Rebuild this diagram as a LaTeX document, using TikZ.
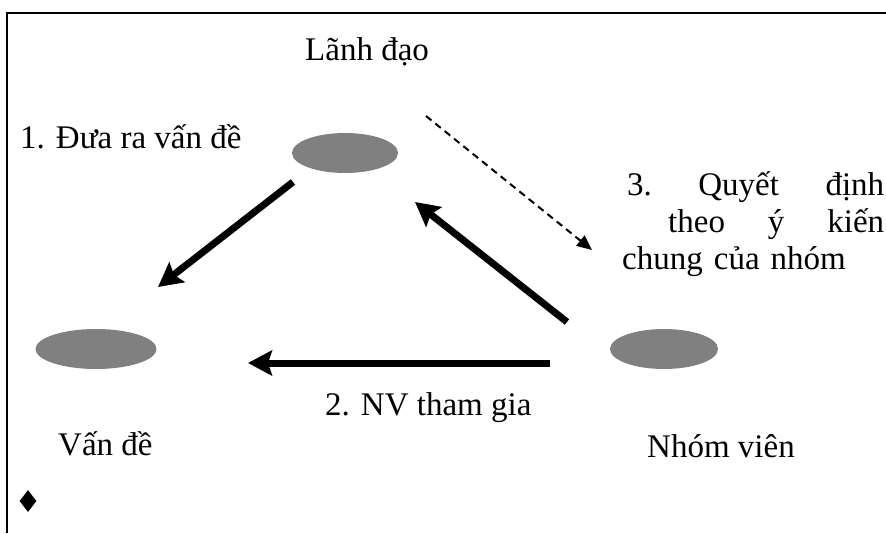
\documentclass[tikz,border=0pt]{standalone}
\usepackage{fontspec}
\setmainfont{Liberation Serif}
\usetikzlibrary{arrows.meta,shapes.geometric}
\definecolor{blobgray}{RGB}{128,128,128}
\begin{document}
\begin{tikzpicture}[x=1pt,y=-1pt,
  blob/.style={ellipse, fill=blobgray, draw=none, inner sep=0pt},
  lbl/.style={anchor=base west, inner sep=0pt, font=\fontsize{33}{36}\selectfont},
  bigarrow/.style={line width=7pt, -{Stealth[length=24pt,width=25pt,inset=4pt]}},
  dasharrow/.style={line width=2pt, dash pattern=on 7pt off 5pt, -{Triangle[length=15pt,width=13pt]}}
]
\useasboundingbox (0,0) rectangle (886,533);
% frame (top and left edges)
\draw[line width=2pt] (7,533) -- (7,13) -- (886,13);

% ellipses
\node[blob, minimum width=106pt, minimum height=40pt] (lead) at (345,153) {};
\node[blob, minimum width=121pt, minimum height=40pt] (issue) at (96,349) {};
\node[blob, minimum width=108pt, minimum height=40pt] (team) at (664,349) {};

% labels
\node[lbl] (tlead) at (305,60) {Lãnh đạo};
\node[lbl] (t1) at (20,148) {1. Đưa ra vấn đề};
\node[lbl] (tissue) at (58,455) {Vấn đề};
\node[lbl] (tteam) at (647,457) {Nhóm viên};
\node[lbl] (t2) at (325,415) {2. NV tham gia};
\node[anchor=north west, inner sep=0pt, text width=262pt, align=left,
      font=\fontsize{33}{37}\selectfont] (t3) at (622,171)
  {\hspace*{5pt}3.\hfill Quyết\hfill định\\
   \hspace*{46pt}theo\hfill ý\hfill kiến\\
   chung của nhóm};

% bullet diamond
\node[diamond, fill=black, inner sep=0pt, minimum width=17pt, minimum height=22pt] (bullet) at (28,501) {};

% connector end points
\coordinate (a1s) at (293,182);
\coordinate (a1e) at (158,287);
\coordinate (a2s) at (550,363);
\coordinate (a2e) at (248,363);
\coordinate (a3s) at (567,322);
\coordinate (a3e) at (415,202);
\coordinate (d1s) at (426,116);
\coordinate (d1e) at (592,250);

\draw[bigarrow] (a1s) -- (a1e);
\draw[bigarrow] (a2s) -- (a2e);
\draw[bigarrow] (a3s) -- (a3e);
\draw[dasharrow] (d1s) -- (d1e);
\end{tikzpicture}
\end{document}
